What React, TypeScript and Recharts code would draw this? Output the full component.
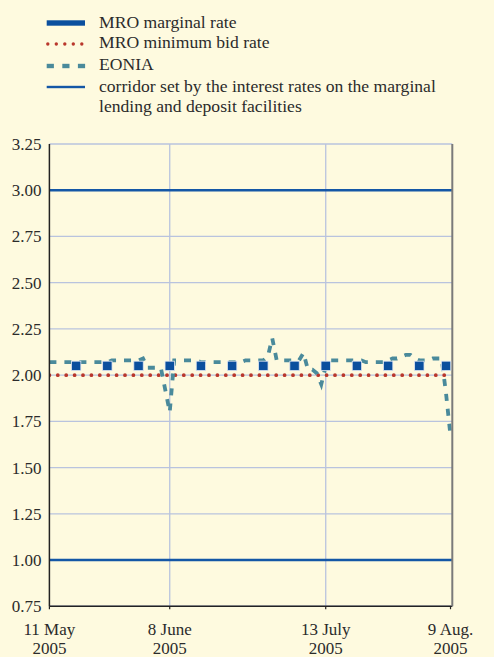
import {
  ComposedChart,
  Line,
  Scatter,
  XAxis,
  YAxis,
  CartesianGrid,
  ReferenceLine,
} from 'recharts'

// x values are days after 11 May 2005
const EONIA_START_DAY = 1
const EONIA = [
  2.07, 2.07, 2.07, 2.07, 2.07, 2.07, 2.07,
  2.07, 2.07, 2.07, 2.07, 2.07, 2.07, 2.07,
  2.08, 2.08, 2.08, 2.08, 2.08, 2.08, 2.08,
  2.09, 2.04, 2.04, 2.04, 2.04, 1.92, 1.80,
  2.08, 2.08, 2.08, 2.08, 2.08, 2.08, 2.07,
  2.07, 2.07, 2.07, 2.07, 2.07, 2.07, 2.07,
  2.07, 2.07, 2.08, 2.08, 2.08, 2.08, 2.08,
  2.10, 2.20, 2.08, 2.08, 2.08, 2.08, 2.08,
  2.08, 2.12, 2.03, 2.03, 2.01, 1.95, 2.05,
  2.08, 2.08, 2.08, 2.08, 2.08, 2.08, 2.08,
  2.08, 2.07, 2.07, 2.07, 2.07, 2.07, 2.08,
  2.09, 2.09, 2.10, 2.11, 2.11, 2.09, 2.08,
  2.08, 2.08, 2.09, 2.09, 2.09, 1.90, 1.67,
]

const MRO_DAYS = [7, 14, 21, 28, 35, 42, 49, 56, 63, 70, 77, 84, 90]
const MRO_MARGINAL = [2.05, 2.05, 2.05, 2.05, 2.05, 2.05, 2.05, 2.05, 2.05, 2.05, 2.05, 2.05, 2.05]

const MIN_BID_RATE = 2.0
const CORRIDOR = [3.0, 1.0]

const X_DOMAIN = [1, 91.4]
const TICK_DAYS = [1, 28, 63, 91]
const TICK_LABELS = [
  ['11 May', '2005'],
  ['8 June', '2005'],
  ['13 July', '2005'],
  ['9 Aug.', '2005'],
]
const GRID_DAYS = [28, 63]
const Y_TICKS = [0.75, 1.0, 1.25, 1.5, 1.75, 2.0, 2.25, 2.5, 2.75, 3.0, 3.25]

const LEGEND = [
  'MRO marginal rate',
  'MRO minimum bid rate',
  'EONIA',
  'corridor set by the interest rates on the marginal lending and deposit facilities',
]

const BG = '#fefadf'
const DARK_BLUE = '#0b4f9e'
const CORRIDOR_BLUE = '#1457a6'
const RED = '#b9372c'
const TEAL = '#4a8a9b'
const GRID = '#b9c3de'
const TEXT = '#2b2b2b'
const FONT = '"Liberation Serif", "Times New Roman", serif'

const eoniaData = EONIA.map((v, i) => ({ d: EONIA_START_DAY + i, v }))
const mroData = MRO_DAYS.map((d, i) => ({ d, v: MRO_MARGINAL[i] }))
const minBidData = X_DOMAIN.map((d) => ({ d, v: MIN_BID_RATE }))

function XTick(props: any) {
  const { x, y, payload } = props
  const idx = TICK_DAYS.indexOf(payload.value)
  const lines = TICK_LABELS[idx] || ['', '']
  return (
    <text x={x} y={y} textAnchor="middle" fill={TEXT} fontSize={17} fontFamily={FONT}>
      <tspan x={x} dy={24}>{lines[0]}</tspan>
      <tspan x={x} dy={19}>{lines[1]}</tspan>
    </text>
  )
}

function Square(props: any) {
  const { cx, cy } = props
  return <rect x={cx - 4.7} y={cy - 4.7} width={9.4} height={9.4} fill={DARK_BLUE} stroke="#dfe6f2" strokeWidth={0.8} />
}

function LegendIcon({ i }: { i: number }) {
  return (
    <svg width={40} height={10} style={{ position: 'absolute', left: 46, top: 0 }}>
      {i === 0 && <rect x={0.7} y={2.3} width={38.3} height={5.4} fill={DARK_BLUE} />}
      {i === 1 &&
        [0, 1, 2, 3, 4].map((k) => (
          <circle key={k} cx={1.8 + k * 8.5} cy={5} r={1.7} fill={RED} />
        ))}
      {i === 2 &&
        [0, 1, 2].map((k) => (
          <rect key={k} x={0.7 + k * 15.6} y={2.8} width={7.2} height={4.4} fill={TEAL} />
        ))}
      {i === 3 && <rect x={0.7} y={3.8} width={38.3} height={2.4} fill={CORRIDOR_BLUE} />}
    </svg>
  )
}

const LEGEND_ICON_Y = [23.3, 43.5, 65.7, 87.3]

export default function App() {
  return (
    <div style={{ position: 'relative', width: 494, height: 657, background: BG, overflow: 'hidden' }}>
      <style>{'body{margin:0}'}</style>
      {LEGEND.map((t, i) => (
        <div key={i} style={{ position: 'absolute', left: 0, top: LEGEND_ICON_Y[i] - 5, width: 494 }}>
          <LegendIcon i={i} />
          <div
            style={{
              position: 'absolute',
              left: 99,
              top: -6.5,
              width: 360,
              fontFamily: FONT,
              fontSize: 17.6,
              lineHeight: '20.5px',
              color: TEXT,
            }}
          >
            {t}
          </div>
        </div>
      ))}
      <div style={{ position: 'absolute', left: 0, top: 0 }}>
        <ComposedChart width={494} height={657} margin={{ top: 144, right: 0, bottom: 0, left: 0 }}>
          <CartesianGrid yAxisId="left" vertical={false} stroke={GRID} strokeWidth={1.3} />
          {GRID_DAYS.map((d) => (
            <ReferenceLine key={d} yAxisId="left" x={d} stroke={GRID} strokeWidth={1.3} />
          ))}
          <XAxis
            dataKey="d"
            type="number"
            domain={X_DOMAIN}
            ticks={TICK_DAYS}
            allowDataOverflow
            height={50.75}
            tick={<XTick />}
            tickSize={3}
            axisLine={{ stroke: '#222', strokeWidth: 1.5 }}
            tickLine={{ stroke: '#222', strokeWidth: 1.2 }}
            interval={0}
          />
          <YAxis
            yAxisId="left"
            width={49.4}
            domain={[0.75, 3.25]}
            ticks={Y_TICKS}
            tickFormatter={(v: number) => v.toFixed(2)}
            tick={{ fontSize: 17, fill: TEXT, fontFamily: FONT }}
            tickLine={false}
            axisLine={{ stroke: '#222', strokeWidth: 1.5 }}
            interval={0}
          />
          <YAxis
            yAxisId="right"
            orientation="right"
            width={41.7}
            domain={[0.75, 3.25]}
            ticks={Y_TICKS}
            tickFormatter={(v: number) => v.toFixed(2)}
            tick={{ fontSize: 17, fill: TEXT, fontFamily: FONT }}
            tickLine={false}
            axisLine={{ stroke: '#7a7a7a', strokeWidth: 2 }}
            interval={0}
          />
          {CORRIDOR.map((y) => (
            <ReferenceLine key={y} yAxisId="left" y={y} stroke={CORRIDOR_BLUE} strokeWidth={2.6} />
          ))}
          <Line
            yAxisId="left"
            data={minBidData}
            dataKey="v"
            stroke={RED}
            strokeWidth={3.8}
            strokeDasharray="0 8.4"
            strokeLinecap="round"
            dot={false}
            activeDot={false}
            isAnimationActive={false}
          />
          <Scatter
            yAxisId="left"
            data={mroData}
            dataKey="v"
            shape={<Square />}
            isAnimationActive={false}
          />
          <Line
            yAxisId="left"
            data={eoniaData}
            dataKey="v"
            type="linear"
            stroke={TEAL}
            strokeWidth={3.8}
            strokeDasharray="7 8"
            dot={false}
            activeDot={false}
            isAnimationActive={false}
          />
        </ComposedChart>
      </div>
    </div>
  )
}
